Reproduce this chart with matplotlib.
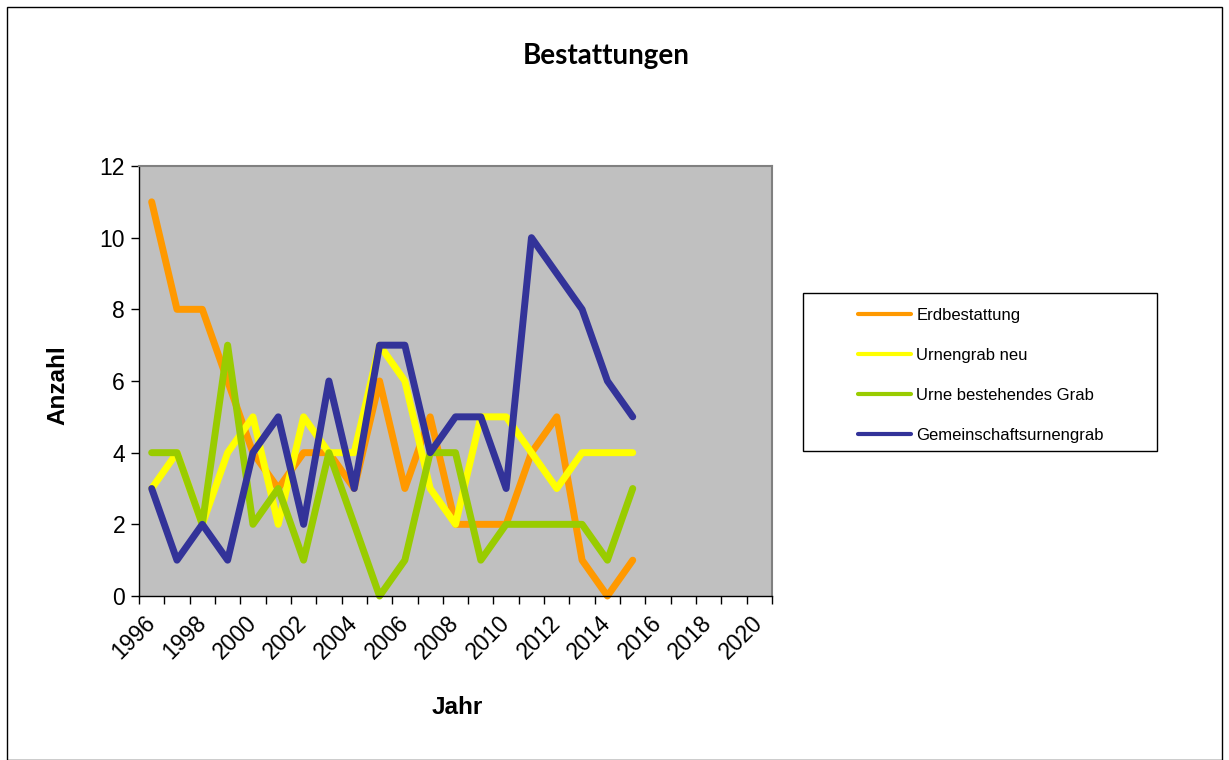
import matplotlib.pyplot as plt
from matplotlib.patches import Rectangle
import numpy as np

plt.rcParams['font.family'] = ['Liberation Sans', 'DejaVu Sans']

# Kategorien 1996..2020, Daten bis 2015
jahre = list(range(1996, 2021))
daten_jahre = list(range(1996, 2016))

erdbestattung = [11, 8, 8, 6, 4, 3, 4, 4, 3, 6, 3, 5, 2, 2, 2, 4, 5, 1, 0, 1]
urnengrab_neu = [3, 4, 2, 4, 5, 2, 5, 4, 4, 7, 6, 3, 2, 5, 5, 4, 3, 4, 4, 4]
urne_bestehend = [4, 4, 2, 7, 2, 3, 1, 4, 2, 0, 1, 4, 4, 1, 2, 2, 2, 2, 1, 3]
gemeinschaft = [3, 1, 2, 1, 4, 5, 2, 6, 3, 7, 7, 4, 5, 5, 3, 10, 9, 8, 6, 5]

reihen = [
    ('Erdbestattung', erdbestattung, '#FF9900'),
    ('Urnengrab neu', urnengrab_neu, '#FFFF00'),
    ('Urne bestehendes Grab', urne_bestehend, '#99CC00'),
    ('Gemeinschaftsurnengrab', gemeinschaft, '#333399'),
]

W, H = 1229, 760
fig = plt.figure(figsize=(W / 100, H / 100), dpi=100)

# aeusserer Rahmen
fig.patches.append(Rectangle((7 / W, 0), (1222 - 7) / W, 1 - 7 / H,
                             transform=fig.transFigure, fill=False,
                             edgecolor='black', linewidth=1))

ax = fig.add_axes([139 / W, 1 - 596 / H, (772 - 139) / W, (596 - 166) / H])
ax.set_facecolor('#C0C0C0')
for s in ax.spines.values():
    s.set_color('#808080')
    s.set_linewidth(1.5)
ax.spines['bottom'].set_color('black')
ax.spines['left'].set_color('black')
ax.spines['bottom'].set_linewidth(1)
ax.spines['left'].set_linewidth(1)

x = np.arange(len(daten_jahre))
for name, werte, farbe in reihen:
    ax.plot(x, werte, color=farbe, linewidth=5, label=name,
            solid_joinstyle='round', solid_capstyle='round', clip_on=False)

ax.set_xlim(-0.5, len(jahre) - 0.5)
ax.set_ylim(0, 12)
ax.set_yticks(range(0, 13, 2))
ax.tick_params(axis='y', labelsize=16.5, length=6, width=1, direction='out', pad=4)

ax.set_xticks(np.arange(-0.5, len(jahre), 1))
ax.set_xticklabels([])
ax.tick_params(axis='x', length=6, width=1, direction='out')
ax.set_xticks(np.arange(0, len(jahre), 2), minor=True)
ax.set_xticklabels([str(j) for j in jahre[::2]], minor=True, rotation=45,
                   ha='right', va='center', rotation_mode='anchor', fontsize=16.5)
ax.tick_params(axis='x', which='minor', length=0, pad=17)

fig.text(606 / W, 1 - 56 / H, 'Bestattungen', ha='center', va='center',
         fontsize=20, fontweight='bold', family=['Lato', 'DejaVu Sans'])
fig.text(58 / W, 1 - 385 / H, 'Anzahl', ha='center', va='center',
         rotation=90, fontsize=17.5, fontweight='bold')
fig.text(457 / W, 1 - 708 / H, 'Jahr', ha='center', va='center',
         fontsize=17.5, fontweight='bold')

# Legende
fig.patches.append(Rectangle((803 / W, 1 - 451 / H), (1157 - 803) / W,
                             (451 - 293) / H, transform=fig.transFigure,
                             fill=False, edgecolor='black', linewidth=1))
leg = fig.legend(loc='upper left', bbox_to_anchor=(858 / W, 1 - 308 / H),
                 frameon=False, fontsize=12, borderpad=0, borderaxespad=0,
                 handlelength=3.2, handletextpad=0.3, labelspacing=1.5)
for l in leg.get_lines():
    l.set_linewidth(3)
    l.set_solid_capstyle('round')

fig.savefig('out.png', dpi=100)
